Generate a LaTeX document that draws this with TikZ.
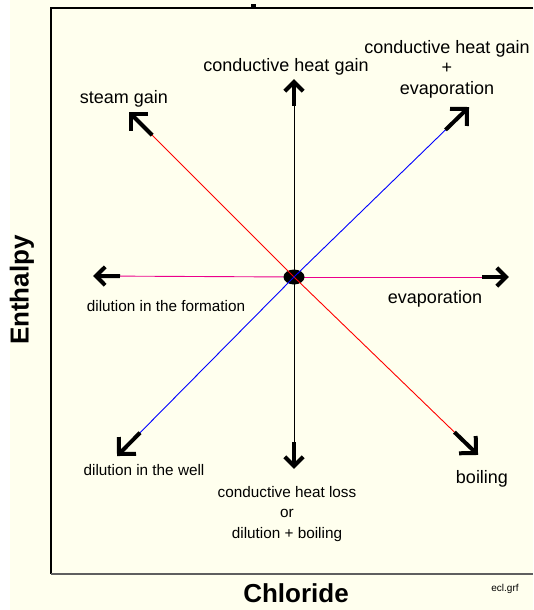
\documentclass[tikz,border=0pt]{standalone}
\usepackage{fontspec}
\setmainfont{Liberation Sans}
\usetikzlibrary{calc,shapes.geometric}
\definecolor{bgyellow}{RGB}{255,255,238}
\definecolor{framegray}{RGB}{95,95,95}
\newcommand\rayhead[4]{%
  \draw[head] ($(#1)!#3!(#2)$) -- (#1);
  \draw[head] ($(#1)!#4!45:(#2)$) -- (#1) -- ($(#1)!#4!-45:(#2)$);
}
\begin{document}
\begin{tikzpicture}[x=1pt,y=-1pt,
  lbl/.style={font=\fontsize{18}{20.5}\selectfont, inner sep=0pt, align=center},
  slbl/.style={font=\fontsize{15.3}{20.5}\selectfont, inner sep=0pt, align=center},
  axislbl/.style={font=\fontsize{26}{30}\selectfont\bfseries, inner sep=0pt},
  ray/.style={line width=0.9pt},
  head/.style={line width=4pt, black, line cap=butt, line join=miter},
]
\useasboundingbox (0,0) rectangle (533,610);
\fill[bgyellow] (10,0) rectangle (533,610);
% frame
\draw[line width=1.5pt, black] (533,8) -- (51,8) -- (51,574);
\draw[line width=1.5pt, framegray] (51,574) -- (533,574);
\fill[black] (251,4) rectangle (256,8);

% centre and tips
\coordinate (c) at (294,277);
\coordinate (tU) at (294,82);
\coordinate (tD) at (294,466);
\coordinate (tR) at (506,277);
\coordinate (tL) at (96,276);
\coordinate (tUL) at (131,114);
\coordinate (tUR) at (467,109);
\coordinate (tDL) at (119,454);
\coordinate (tDR) at (476,453);

\draw[ray, black] (c) -- (tU);
\draw[ray, black] (c) -- (tD);
\draw[ray, magenta] (c) -- (tR);
\draw[ray, magenta] (c) -- (tL);
\node[ellipse, fill=black, minimum width=21pt, minimum height=15pt, inner sep=0pt] (dot) at (c) {};
\draw[ray, red] (dot.center) -- (tUL);
\draw[ray, red] (dot.center) -- (tDR);
\draw[ray, blue] (dot.center) -- (tUR);
\draw[ray, blue] (dot.center) -- (tDL);

\rayhead{tU}{c}{24pt}{13pt}
\rayhead{tD}{c}{24pt}{13pt}
\rayhead{tR}{c}{24pt}{13pt}
\rayhead{tL}{c}{24pt}{13pt}
\rayhead{tUL}{c}{30pt}{17pt}
\rayhead{tUR}{c}{30pt}{17pt}
\rayhead{tDL}{c}{30pt}{17pt}
\rayhead{tDR}{c}{30pt}{17pt}

% labels
\node[lbl] (lU) at (286,67) {conductive heat gain};
\node[lbl] (lUR) at (447,69) {conductive heat gain\\+\\evaporation};
\node[lbl] (lUL) at (124,99) {steam gain};
\node[slbl] (lL) at (166,306) {dilution in the formation};
\node[lbl] (lR) at (435,299) {evaporation};
\node[slbl] (lDL) at (144,470) {dilution in the well};
\node[slbl] (lD) at (287,514) {conductive heat loss\\or\\dilution + boiling};
\node[lbl] (lDR) at (482,479) {boiling};

\node[axislbl, rotate=90] (ya) at (22,290) {Enthalpy};
\node[axislbl] (xa) at (296,593) {Chloride};
\node[font=\fontsize{10}{12}\selectfont, inner sep=0pt] (fn) at (505,589) {ecl.grf};
\end{tikzpicture}
\end{document}
